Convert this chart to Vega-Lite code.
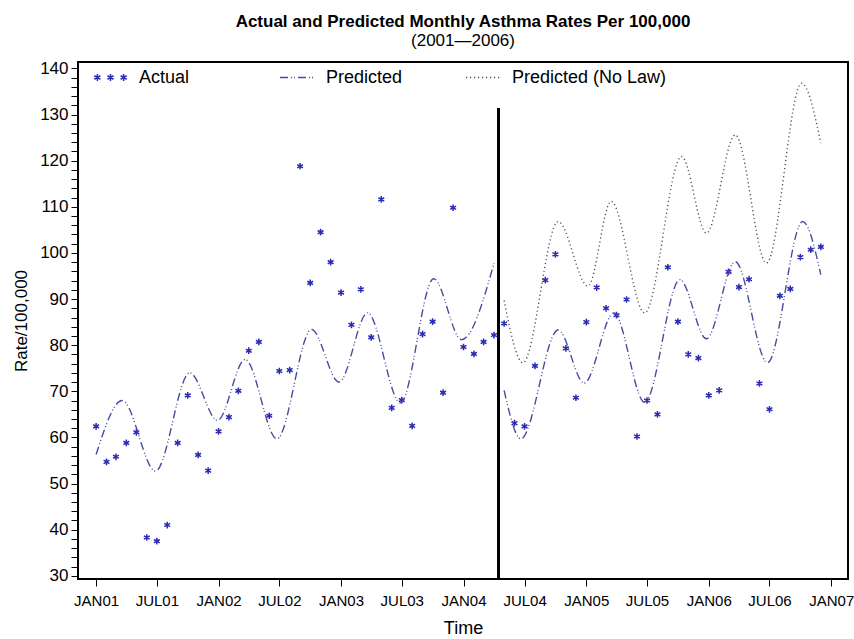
{
  "$schema": "https://vega.github.io/schema/vega-lite/v6.json",
  "width": 770,
  "height": 517,
  "autosize": {"type": "none"},
  "padding": {"left": 78, "top": 62, "right": 6, "bottom": 60},
  "background": "white",
  "config": {
    "view": {"stroke": "black", "strokeWidth": 2},
    "font": "Liberation Sans",
    "axis": {"grid": false, "domain": false, "tickColor": "black", "labelColor": "black", "titleColor": "black", "labelFont": "Liberation Sans", "titleFont": "Liberation Sans", "titleFontWeight": "normal"},
    "legend": {"labelFont": "Liberation Sans", "labelFontSize": 18, "labelColor": "black", "labelOffset": 10, "labelLimit": 300, "symbolSize": 1225, "symbolStrokeWidth": 1.5, "title": null}
  },
  "title": {
    "text": "Actual and Predicted Monthly Asthma Rates Per 100,000",
    "subtitle": "(2001—2006)",
    "anchor": "middle",
    "font": "Liberation Sans",
    "fontSize": 17,
    "fontWeight": "bold",
    "color": "black",
    "subtitleFont": "Liberation Sans",
    "subtitleFontSize": 17,
    "subtitleColor": "black",
    "subtitlePadding": 2,
    "offset": 9
  },
  "data": {
    "values": [
      {"s": "Actual", "g": "a", "d": "2001-01-01", "v": 62.4},
      {"s": "Actual", "g": "a", "d": "2001-02-01", "v": 54.7},
      {"s": "Actual", "g": "a", "d": "2001-03-01", "v": 55.8},
      {"s": "Actual", "g": "a", "d": "2001-04-01", "v": 58.8},
      {"s": "Actual", "g": "a", "d": "2001-05-01", "v": 61.1},
      {"s": "Actual", "g": "a", "d": "2001-06-01", "v": 38.3},
      {"s": "Actual", "g": "a", "d": "2001-07-01", "v": 37.5},
      {"s": "Actual", "g": "a", "d": "2001-08-01", "v": 41.0},
      {"s": "Actual", "g": "a", "d": "2001-09-01", "v": 58.8},
      {"s": "Actual", "g": "a", "d": "2001-10-01", "v": 69.1},
      {"s": "Actual", "g": "a", "d": "2001-11-01", "v": 56.2},
      {"s": "Actual", "g": "a", "d": "2001-12-01", "v": 52.8},
      {"s": "Actual", "g": "a", "d": "2002-01-01", "v": 61.3},
      {"s": "Actual", "g": "a", "d": "2002-02-01", "v": 64.4},
      {"s": "Actual", "g": "a", "d": "2002-03-01", "v": 70.1},
      {"s": "Actual", "g": "a", "d": "2002-04-01", "v": 78.8},
      {"s": "Actual", "g": "a", "d": "2002-05-01", "v": 80.7},
      {"s": "Actual", "g": "a", "d": "2002-06-01", "v": 64.7},
      {"s": "Actual", "g": "a", "d": "2002-07-01", "v": 74.4},
      {"s": "Actual", "g": "a", "d": "2002-08-01", "v": 74.6},
      {"s": "Actual", "g": "a", "d": "2002-09-01", "v": 118.8},
      {"s": "Actual", "g": "a", "d": "2002-10-01", "v": 93.5},
      {"s": "Actual", "g": "a", "d": "2002-11-01", "v": 104.5},
      {"s": "Actual", "g": "a", "d": "2002-12-01", "v": 98.0},
      {"s": "Actual", "g": "a", "d": "2003-01-01", "v": 91.4},
      {"s": "Actual", "g": "a", "d": "2003-02-01", "v": 84.4},
      {"s": "Actual", "g": "a", "d": "2003-03-01", "v": 92.1},
      {"s": "Actual", "g": "a", "d": "2003-04-01", "v": 81.7},
      {"s": "Actual", "g": "a", "d": "2003-05-01", "v": 111.6},
      {"s": "Actual", "g": "a", "d": "2003-06-01", "v": 66.4},
      {"s": "Actual", "g": "a", "d": "2003-07-01", "v": 68.1},
      {"s": "Actual", "g": "a", "d": "2003-08-01", "v": 62.5},
      {"s": "Actual", "g": "a", "d": "2003-09-01", "v": 82.4},
      {"s": "Actual", "g": "a", "d": "2003-10-01", "v": 85.1},
      {"s": "Actual", "g": "a", "d": "2003-11-01", "v": 69.7},
      {"s": "Actual", "g": "a", "d": "2003-12-01", "v": 109.8},
      {"s": "Actual", "g": "a", "d": "2004-01-01", "v": 79.6},
      {"s": "Actual", "g": "a", "d": "2004-02-01", "v": 78.1},
      {"s": "Actual", "g": "a", "d": "2004-03-01", "v": 80.7},
      {"s": "Actual", "g": "a", "d": "2004-04-01", "v": 82.2},
      {"s": "Actual", "g": "a", "d": "2004-05-01", "v": 84.7},
      {"s": "Actual", "g": "a", "d": "2004-06-01", "v": 63.1},
      {"s": "Actual", "g": "a", "d": "2004-07-01", "v": 62.4},
      {"s": "Actual", "g": "a", "d": "2004-08-01", "v": 75.5},
      {"s": "Actual", "g": "a", "d": "2004-09-01", "v": 94.1},
      {"s": "Actual", "g": "a", "d": "2004-10-01", "v": 99.7},
      {"s": "Actual", "g": "a", "d": "2004-11-01", "v": 79.3},
      {"s": "Actual", "g": "a", "d": "2004-12-01", "v": 68.6},
      {"s": "Actual", "g": "a", "d": "2005-01-01", "v": 85.0},
      {"s": "Actual", "g": "a", "d": "2005-02-01", "v": 92.5},
      {"s": "Actual", "g": "a", "d": "2005-03-01", "v": 88.0},
      {"s": "Actual", "g": "a", "d": "2005-04-01", "v": 86.5},
      {"s": "Actual", "g": "a", "d": "2005-05-01", "v": 89.9},
      {"s": "Actual", "g": "a", "d": "2005-06-01", "v": 60.2},
      {"s": "Actual", "g": "a", "d": "2005-07-01", "v": 68.0},
      {"s": "Actual", "g": "a", "d": "2005-08-01", "v": 65.0},
      {"s": "Actual", "g": "a", "d": "2005-09-01", "v": 96.9},
      {"s": "Actual", "g": "a", "d": "2005-10-01", "v": 85.1},
      {"s": "Actual", "g": "a", "d": "2005-11-01", "v": 78.0},
      {"s": "Actual", "g": "a", "d": "2005-12-01", "v": 77.2},
      {"s": "Actual", "g": "a", "d": "2006-01-01", "v": 69.1},
      {"s": "Actual", "g": "a", "d": "2006-02-01", "v": 70.2},
      {"s": "Actual", "g": "a", "d": "2006-03-01", "v": 95.9},
      {"s": "Actual", "g": "a", "d": "2006-04-01", "v": 92.6},
      {"s": "Actual", "g": "a", "d": "2006-05-01", "v": 94.3},
      {"s": "Actual", "g": "a", "d": "2006-06-01", "v": 71.7},
      {"s": "Actual", "g": "a", "d": "2006-07-01", "v": 66.1},
      {"s": "Actual", "g": "a", "d": "2006-08-01", "v": 90.7},
      {"s": "Actual", "g": "a", "d": "2006-09-01", "v": 92.2},
      {"s": "Actual", "g": "a", "d": "2006-10-01", "v": 99.1},
      {"s": "Actual", "g": "a", "d": "2006-11-01", "v": 100.7},
      {"s": "Actual", "g": "a", "d": "2006-12-01", "v": 101.3},
      {"s": "Predicted", "g": "pre", "d": "2001-01-01", "v": 56.3},
      {"s": "Predicted", "g": "pre", "d": "2001-03-20", "v": 68.0},
      {"s": "Predicted", "g": "pre", "d": "2001-06-27", "v": 52.7},
      {"s": "Predicted", "g": "pre", "d": "2001-10-07", "v": 74.0},
      {"s": "Predicted", "g": "pre", "d": "2001-12-29", "v": 63.7},
      {"s": "Predicted", "g": "pre", "d": "2002-03-21", "v": 76.9},
      {"s": "Predicted", "g": "pre", "d": "2002-06-24", "v": 59.7},
      {"s": "Predicted", "g": "pre", "d": "2002-10-05", "v": 83.4},
      {"s": "Predicted", "g": "pre", "d": "2002-12-26", "v": 72.0},
      {"s": "Predicted", "g": "pre", "d": "2003-03-21", "v": 87.0},
      {"s": "Predicted", "g": "pre", "d": "2003-06-27", "v": 67.5},
      {"s": "Predicted", "g": "pre", "d": "2003-10-04", "v": 94.4},
      {"s": "Predicted", "g": "pre", "d": "2003-12-26", "v": 81.2},
      {"s": "Predicted", "g": "pre", "d": "2004-04-01", "v": 97.8},
      {"s": "Predicted", "g": "post", "d": "2004-05-01", "v": 70.2},
      {"s": "Predicted", "g": "post", "d": "2004-06-20", "v": 59.7},
      {"s": "Predicted", "g": "post", "d": "2004-10-09", "v": 83.3},
      {"s": "Predicted", "g": "post", "d": "2004-12-26", "v": 71.8},
      {"s": "Predicted", "g": "post", "d": "2005-03-24", "v": 87.0},
      {"s": "Predicted", "g": "post", "d": "2005-06-24", "v": 67.6},
      {"s": "Predicted", "g": "post", "d": "2005-10-07", "v": 94.2},
      {"s": "Predicted", "g": "post", "d": "2005-12-25", "v": 81.4},
      {"s": "Predicted", "g": "post", "d": "2006-03-21", "v": 98.1},
      {"s": "Predicted", "g": "post", "d": "2006-06-25", "v": 76.2},
      {"s": "Predicted", "g": "post", "d": "2006-10-08", "v": 106.8},
      {"s": "Predicted", "g": "post", "d": "2006-12-01", "v": 95.3},
      {"s": "Predicted (No Law)", "g": "nl", "d": "2004-05-01", "v": 89.7},
      {"s": "Predicted (No Law)", "g": "nl", "d": "2004-06-26", "v": 76.2},
      {"s": "Predicted (No Law)", "g": "nl", "d": "2004-10-09", "v": 106.8},
      {"s": "Predicted (No Law)", "g": "nl", "d": "2005-01-06", "v": 92.8},
      {"s": "Predicted (No Law)", "g": "nl", "d": "2005-03-16", "v": 111.2},
      {"s": "Predicted (No Law)", "g": "nl", "d": "2005-06-24", "v": 87.0},
      {"s": "Predicted (No Law)", "g": "nl", "d": "2005-10-12", "v": 120.9},
      {"s": "Predicted (No Law)", "g": "nl", "d": "2005-12-25", "v": 104.3},
      {"s": "Predicted (No Law)", "g": "nl", "d": "2006-03-21", "v": 125.6},
      {"s": "Predicted (No Law)", "g": "nl", "d": "2006-06-22", "v": 97.8},
      {"s": "Predicted (No Law)", "g": "nl", "d": "2006-10-05", "v": 136.8},
      {"s": "Predicted (No Law)", "g": "nl", "d": "2006-12-01", "v": 123.8}
    ]
  },
  "encoding": {
    "x": {
      "field": "d",
      "type": "temporal",
      "scale": {"domain": [{"year": 2000, "month": 11, "date": 8}, {"year": 2007, "month": 2, "date": 20}]},
      "axis": {
        "title": "Time",
        "titleFontSize": 18,
        "titlePadding": 11,
        "values": [
          {"year": 2001, "month": 1, "date": 1}, {"year": 2001, "month": 7, "date": 1},
          {"year": 2002, "month": 1, "date": 1}, {"year": 2002, "month": 7, "date": 1},
          {"year": 2003, "month": 1, "date": 1}, {"year": 2003, "month": 7, "date": 1},
          {"year": 2004, "month": 1, "date": 1}, {"year": 2004, "month": 7, "date": 1},
          {"year": 2005, "month": 1, "date": 1}, {"year": 2005, "month": 7, "date": 1},
          {"year": 2006, "month": 1, "date": 1}, {"year": 2006, "month": 7, "date": 1},
          {"year": 2007, "month": 1, "date": 1}
        ],
        "labelExpr": "upper(timeFormat(datum.value, '%b%y'))",
        "labelFontSize": 15,
        "labelPadding": 7,
        "labelOverlap": false,
        "labelFlush": false,
        "tickSize": 7,
        "tickWidth": 1
      }
    },
    "y": {
      "field": "v",
      "type": "quantitative",
      "scale": {"domain": [29.3, 141.4], "nice": false, "zero": false},
      "axis": {
        "title": "Rate/100,000",
        "titleFontSize": 17,
        "titlePadding": 9,
        "values": [30, 32, 34, 36, 38, 40, 42, 44, 46, 48, 50, 52, 54, 56, 58, 60, 62, 64, 66, 68, 70, 72, 74, 76, 78, 80, 82, 84, 86, 88, 90, 92, 94, 96, 98, 100, 102, 104, 106, 108, 110, 112, 114, 116, 118, 120, 122, 124, 126, 128, 130, 132, 134, 136, 138, 140],
        "labelExpr": "datum.value % 10 === 0 ? datum.label : ''",
        "labelFontSize": 17,
        "labelPadding": 3,
        "labelOverlap": false,
        "labelFlush": false,
        "tickSize": 7,
        "tickWidth": 1,
        "encode": {"ticks": {"update": {"x2": {"signal": "datum.value % 10 === 0 ? -7 : -3.5"}}}}
      }
    }
  },
  "layer": [
    {
      "transform": [{"filter": "datum.s === 'Actual'"}],
      "mark": {
        "type": "point",
        "shape": "M0,-1L0,1M-0.87,-0.5L0.87,0.5M-0.87,0.5L0.87,-0.5",
        "filled": false,
        "size": 45,
        "strokeWidth": 1.5,
        "opacity": 1
      },
      "encoding": {
        "color": {
          "field": "s",
          "type": "nominal",
          "scale": {"domain": ["Actual"], "range": ["#2a2ab5"]},
          "legend": {
            "title": null,
            "orient": "none",
            "legendX": 14,
            "legendY": -3,
            "direction": "horizontal",
            "symbolType": "M-0.75,-0.2L-0.75,0.2M-0.923,-0.1L-0.577,0.1M-0.923,0.1L-0.577,-0.1M0,-0.2L0,0.2M-0.173,-0.1L0.173,0.1M-0.173,0.1L0.173,-0.1M0.75,-0.2L0.75,0.2M0.577,-0.1L0.923,0.1M0.577,0.1L0.923,-0.1",
            "symbolSize": 1225,
            "symbolStrokeWidth": 1.5,
            "symbolOpacity": 1
          }
        }
      }
    },
    {
      "transform": [{"filter": "datum.s !== 'Actual'"}],
      "mark": {"type": "line", "interpolate": "monotone", "strokeWidth": 1.4},
      "encoding": {
        "color": {
          "field": "s",
          "type": "nominal",
          "scale": {"domain": ["Predicted", "Predicted (No Law)"], "range": ["#4a4aa0", "#555555"]},
          "legend": null
        },
        "strokeDash": {
          "field": "s",
          "type": "nominal",
          "scale": {"domain": ["Predicted", "Predicted (No Law)"], "range": [[8, 3, 1, 2, 1, 3], [1.2, 2.8]]},
          "legend": {
            "title": null,
            "orient": "none",
            "legendX": 201,
            "legendY": -3,
            "direction": "horizontal",
            "columns": 2,
            "gridAlign": "none",
            "columnPadding": 60,
            "symbolType": "stroke",
            "symbolSize": 1225,
            "symbolStrokeWidth": 1.5,
            "symbolStrokeColor": "#4a4aa0",
            "encode": {
              "symbols": {
                "update": {
                  "stroke": {"signal": "datum.value === 'Predicted' ? '#4a4aa0' : '#555555'"}
                }
              }
            }
          }
        },
        "detail": {"field": "g"}
      }
    },
    {
      "mark": {"type": "rule", "color": "black", "strokeWidth": 1.4},
      "encoding": {
        "x": {"datum": {"year": 2004, "month": 4, "date": 14}, "type": "temporal"},
        "y": {"datum": 131.4, "type": "quantitative"},
        "y2": {"datum": 29.3}
      }
    }
  ],
  "resolve": {"scale": {"color": "independent"}}
}
